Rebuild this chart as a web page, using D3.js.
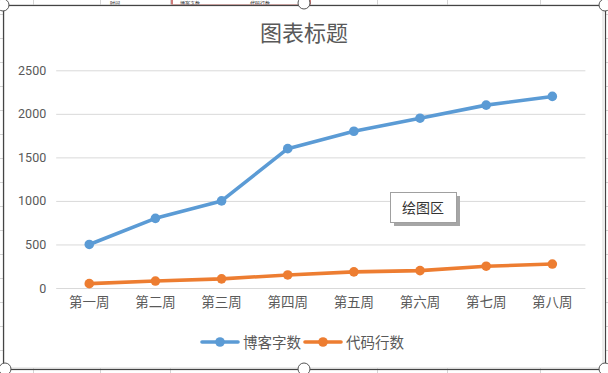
<!DOCTYPE html>
<html>
<head>
<meta charset="utf-8">
<script src="https://cdn.jsdelivr.net/npm/d3@7"></script>
<style>
  html, body { margin: 0; padding: 0; background: #fff; }
  svg { display: block; font-family: "Noto Sans CJK SC", "Noto Sans", sans-serif; }
</style>
</head>
<body>
<div class="chart"></div>
<script>
const weeks = ["第一周", "第二周", "第三周", "第四周", "第五周", "第六周", "第七周", "第八周"];
const blogWords = [500, 800, 1000, 1600, 1800, 1950, 2100, 2200];
const codeLines = [50, 80, 105, 150, 185, 200, 250, 275];
const yTicks = [0, 500, 1000, 1500, 2000, 2500];
const seriesNames = ["博客字数", "代码行数"];
const seriesColors = ["#5B9BD5", "#ED7D31"];

const width = 608;
const height = 373;
const plot = { left: 56.2, right: 585.4, top: 70.3, bottom: 288 };

const svg = d3.select(".chart")
  .append("svg")
  .attr("width", width)
  .attr("height", height);

// spreadsheet behind the chart (only edges visible)
const sheet = svg.append("g").attr("stroke", "#d4d4d4").attr("stroke-width", 1);
[33, 100, 170, 377, 447, 540].forEach((x) => {
  sheet.append("line").attr("x1", x + 0.5).attr("x2", x + 0.5).attr("y1", 0).attr("y2", 5);
  sheet.append("line").attr("x1", x + 0.5).attr("x2", x + 0.5).attr("y1", 368).attr("y2", 373);
});
d3.range(14, 373, 24).forEach((y) => {
  sheet.append("line").attr("x1", 0).attr("x2", 3).attr("y1", y + 0.5).attr("y2", y + 0.5);
  sheet.append("line").attr("x1", 605).attr("x2", 608).attr("y1", y + 0.5).attr("y2", y + 0.5);
});
svg.append("rect").attr("x", 172).attr("y", -4).attr("width", 138).attr("height", 9)
  .attr("fill", "none").attr("stroke", "#c0504d").attr("stroke-width", 1.5);
svg.append("text").attr("x", 110).attr("y", 4.6).style("font-size", "5px").attr("fill", "#222").text("时间");
svg.append("text").attr("x", 180).attr("y", 4.6).style("font-size", "5px").attr("fill", "#222").text("博客字数");
svg.append("text").attr("x", 250).attr("y", 4.6).style("font-size", "5px").attr("fill", "#222").text("代码行数");

// chart area
svg.append("rect").attr("x", 4).attr("y", 5).attr("width", 599).attr("height", 363)
  .attr("fill", "#fff").attr("stroke", "#d9d9d9");
svg.append("rect").attr("x", 3.5).attr("y", 5.5).attr("width", 602).attr("height", 364)
  .attr("fill", "none").attr("stroke", "#444").attr("stroke-width", 1.2);

const x = d3.scaleBand().domain(weeks).range([plot.left, plot.right]);
const y = d3.scaleLinear().domain([0, 2500]).range([plot.bottom, plot.top]);

// gridlines
svg.append("g")
  .attr("transform", `translate(${plot.left},0)`)
  .call(d3.axisLeft(y).tickValues(yTicks).tickSize(-(plot.right - plot.left)).tickFormat(""))
  .call((g) => g.select(".domain").remove())
  .call((g) => g.selectAll("line").attr("stroke", "#d9d9d9"));

// y labels
svg.append("g")
  .attr("transform", `translate(${plot.left - 10},0)`)
  .call(d3.axisLeft(y).tickValues(yTicks).tickSize(0).tickPadding(0).tickFormat(d3.format("d")))
  .call((g) => g.select(".domain").remove())
  .call((g) => g.selectAll("text")
    .attr("fill", "#595959")
    .style("font-size", "12.5px")
    .style("font-family", "Roboto, 'Noto Sans', sans-serif"));

// x labels
svg.append("g")
  .attr("transform", `translate(0,${plot.bottom})`)
  .call(d3.axisBottom(x).tickSize(0).tickPadding(9))
  .call((g) => g.select(".domain").remove())
  .call((g) => g.selectAll("text")
    .attr("fill", "#595959")
    .style("font-size", "13.5px")
    .style("font-family", "'Noto Sans CJK SC', sans-serif"));

// series
const cx = (d, i) => x(weeks[i]) + x.bandwidth() / 2;
[blogWords, codeLines].forEach((values, k) => {
  const line = d3.line().x((d, i) => cx(d, i)).y((d) => y(d));
  svg.append("path")
    .datum(values)
    .attr("d", line)
    .attr("fill", "none")
    .attr("stroke", seriesColors[k])
    .attr("stroke-width", 3.6)
    .attr("stroke-linejoin", "round")
    .attr("stroke-linecap", "round");
  svg.append("g")
    .selectAll("circle")
    .data(values)
    .join("circle")
    .attr("cx", (d, i) => cx(d, i))
    .attr("cy", (d) => y(d))
    .attr("r", 4.8)
    .attr("fill", seriesColors[k]);
});

// title
svg.append("text")
  .attr("x", 304)
  .attr("y", 41)
  .attr("text-anchor", "middle")
  .attr("fill", "#595959")
  .style("font-size", "22px")
  .text("图表标题");

// legend
const legendX = [202, 305];
seriesNames.forEach((name, k) => {
  const g = svg.append("g").attr("transform", `translate(${legendX[k]},342)`);
  g.append("line").attr("x1", 0).attr("x2", 36).attr("y1", 0).attr("y2", 0)
    .attr("stroke", seriesColors[k]).attr("stroke-width", 3.6).attr("stroke-linecap", "round");
  g.append("circle").attr("cx", 18).attr("cy", 0).attr("r", 4.8).attr("fill", seriesColors[k]);
  g.append("text").attr("x", 41).attr("y", 5.5)
    .attr("fill", "#595959").style("font-size", "14.5px").text(name);
});

// plot area tooltip
const tip = svg.append("g").attr("transform", "translate(390,192)");
tip.append("rect").attr("x", 4).attr("y", 4).attr("width", 66).attr("height", 30).attr("fill", "#a6a6a6");
tip.append("rect").attr("x", 0.5).attr("y", 0.5).attr("width", 66).attr("height", 30)
  .attr("fill", "#fff").attr("stroke", "#a0a0a0");
tip.append("text").attr("x", 33).attr("y", 20.5).attr("text-anchor", "middle")
  .attr("fill", "#333").style("font-size", "14px").text("绘图区");

// selection handles
[[3, 5], [304, 3], [605, 5], [5, 369], [304, 369], [605, 369]].forEach(([hx, hy]) => {
  svg.append("circle").attr("cx", hx).attr("cy", hy).attr("r", 6)
    .attr("fill", "#fff").attr("stroke", "#555").attr("stroke-width", 1);
});
</script>
</body>
</html>
